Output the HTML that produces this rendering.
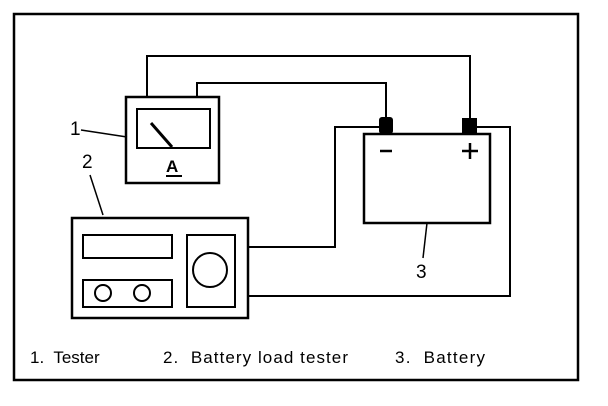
<!DOCTYPE html>
<html><head><style>
html,body{margin:0;padding:0;background:#fff;width:608px;height:406px;overflow:hidden}
svg{display:block}
text{font-family:"Liberation Sans",Arial,sans-serif;fill:#000}
</style></head><body>
<svg width="608" height="406" viewBox="0 0 608 406" xmlns="http://www.w3.org/2000/svg" fill="none" stroke="#000">
<rect x="14" y="14" width="564" height="366" stroke-width="2.5"/>
<!-- wires -->
<polyline points="147,97 147,56 470,56 470,118" stroke-width="2"/>
<polyline points="197,97 197,83 386,83 386,118" stroke-width="2"/>
<polyline points="477,127 510,127 510,296 249,296" stroke-width="2"/>
<polyline points="379,127 335,127 335,247 249,247" stroke-width="2"/>
<!-- tester -->
<rect x="126" y="97" width="93" height="86" stroke-width="2.5"/>
<rect x="137" y="109" width="73" height="39" stroke-width="2"/>
<line x1="151" y1="123" x2="172" y2="147" stroke-width="3"/>
<text x="166" y="172" font-size="17" font-weight="bold" stroke="none">A</text>
<line x1="166" y1="176" x2="182" y2="176" stroke-width="2"/>
<!-- battery -->
<rect x="379" y="117" width="14" height="17" rx="3" fill="#000" stroke="none"/>
<rect x="462" y="118" width="15" height="16" fill="#000" stroke="none"/>
<rect x="364" y="134" width="126" height="89" stroke-width="2.5"/>
<line x1="380" y1="151" x2="392" y2="151" stroke-width="2.5"/>
<line x1="462" y1="151" x2="478" y2="151" stroke-width="2.5"/>
<line x1="470" y1="143" x2="470" y2="159" stroke-width="2.5"/>
<!-- load tester -->
<rect x="72" y="218" width="176" height="100" stroke-width="2.5"/>
<rect x="83" y="235" width="89" height="23" stroke-width="2"/>
<rect x="83" y="280" width="89" height="27" stroke-width="2"/>
<circle cx="103" cy="293" r="8" stroke-width="2"/>
<circle cx="142" cy="293" r="8" stroke-width="2"/>
<rect x="187" y="235" width="48" height="72" stroke-width="2"/>
<circle cx="210" cy="270" r="17" stroke-width="2"/>
<!-- labels -->
<text x="70" y="135" font-size="19" stroke="none">1</text>
<line x1="81" y1="130" x2="127" y2="137" stroke-width="1.5"/>
<text x="82" y="168" font-size="19" stroke="none">2</text>
<line x1="90" y1="175" x2="103" y2="215" stroke-width="1.5"/>
<text x="416" y="278" font-size="19" stroke="none">3</text>
<line x1="427" y1="223" x2="423" y2="258" stroke-width="1.5"/>
<g font-size="17" stroke="none">
<text x="30" y="363" xml:space="preserve">1.  Tester</text>
<text x="163" y="363" xml:space="preserve" textLength="185">2.  Battery load tester</text>
<text x="395" y="363" xml:space="preserve" textLength="90">3.  Battery</text>
</g>
</svg>
</body></html>
